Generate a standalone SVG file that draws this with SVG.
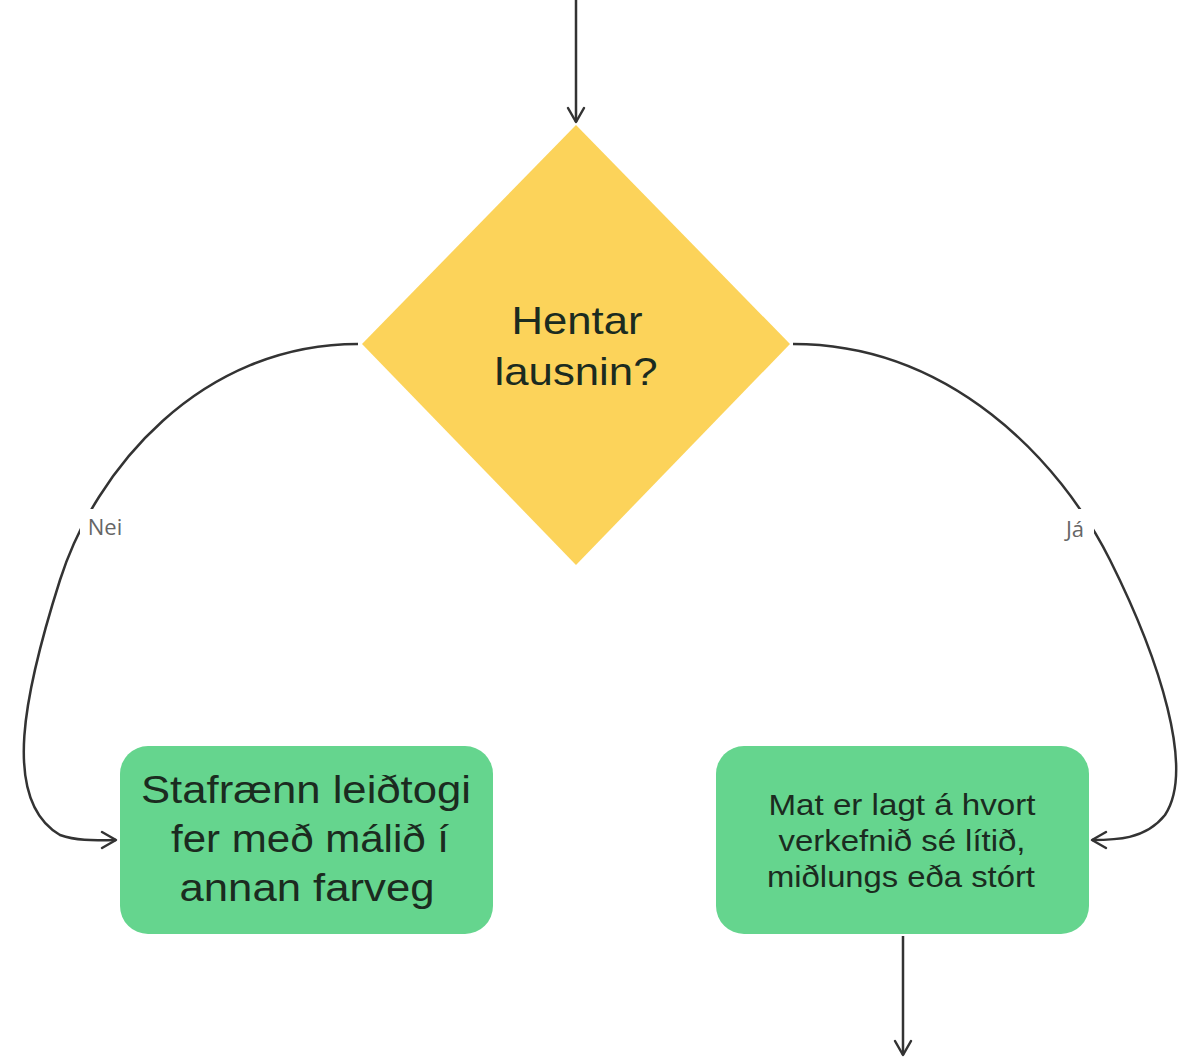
<svg xmlns="http://www.w3.org/2000/svg" width="1183" height="1060" viewBox="0 0 1183 1060">
<style>
.conn{fill:none;stroke:#333;stroke-width:2.5}
.box{fill:#65d58e}
.bt{font-family:"Liberation Sans",Arial,sans-serif;fill:#1b2b20;text-anchor:middle}
.lbl{font-family:"Open Sans","Noto Sans",sans-serif;font-size:22px;fill:#666;text-anchor:middle}
</style>
<defs>
<marker id="arr" viewBox="0 0 20 20" refX="18" refY="10" markerWidth="20" markerHeight="20" markerUnits="userSpaceOnUse" orient="auto">
<path d="M4,2 L18,10 L4,18" fill="none" stroke="#333" stroke-width="2.5" stroke-linecap="round" stroke-linejoin="round"/>
</marker>
</defs>
<rect width="1183" height="1060" fill="#fff"/>
<g id="decision">
<polygon points="576,125 790,344 576,565 362,344" fill="#fcd35a"/>
<text class="bt" x="577" y="334" font-size="39" textLength="131" lengthAdjust="spacingAndGlyphs">Hentar</text>
<text class="bt" x="576" y="385" font-size="39" textLength="163" lengthAdjust="spacingAndGlyphs">lausnin?</text>
</g>
<g id="node-nei">
<rect class="box" x="120" y="746" width="373" height="188" rx="28"/>
<text class="bt" x="306" y="803" font-size="38" textLength="330" lengthAdjust="spacingAndGlyphs">Stafrænn leiðtogi</text>
<text class="bt" x="310" y="852" font-size="38" textLength="278" lengthAdjust="spacingAndGlyphs">fer með málið í</text>
<text class="bt" x="307" y="901" font-size="38" textLength="255" lengthAdjust="spacingAndGlyphs">annan farveg</text>
</g>
<g id="node-ja">
<rect class="box" x="716" y="746" width="373" height="188" rx="28"/>
<text class="bt" x="902" y="815" font-size="29" textLength="267" lengthAdjust="spacingAndGlyphs">Mat er lagt á hvort</text>
<text class="bt" x="902" y="851" font-size="29" textLength="247" lengthAdjust="spacingAndGlyphs">verkefnið sé lítið,</text>
<text class="bt" x="901" y="887" font-size="29" textLength="268" lengthAdjust="spacingAndGlyphs">miðlungs eða stórt</text>
</g>
<g id="connectors">
<path class="conn" d="M576,0 L576,122" marker-end="url(#arr)"/>
<path class="conn" d="M358,344 C200,344 95,470 60,580 C25,690 0,800 60,835 C80,842 100,840 116,840" marker-end="url(#arr)"/>
<path class="conn" d="M793,344 C950,344 1060,460 1110,560 C1160,660 1195,770 1165,815 C1145,840 1115,840 1092,840" marker-end="url(#arr)"/>
<path class="conn" d="M903,936 L903,1055" marker-end="url(#arr)"/>
<rect x="80" y="509" width="50" height="33" fill="#fff"/>
<text class="lbl" x="105" y="535">Nei</text>
<rect x="1058" y="509" width="36" height="33" fill="#fff"/>
<text class="lbl" x="1075" y="537">Já</text>
</g>
</svg>
